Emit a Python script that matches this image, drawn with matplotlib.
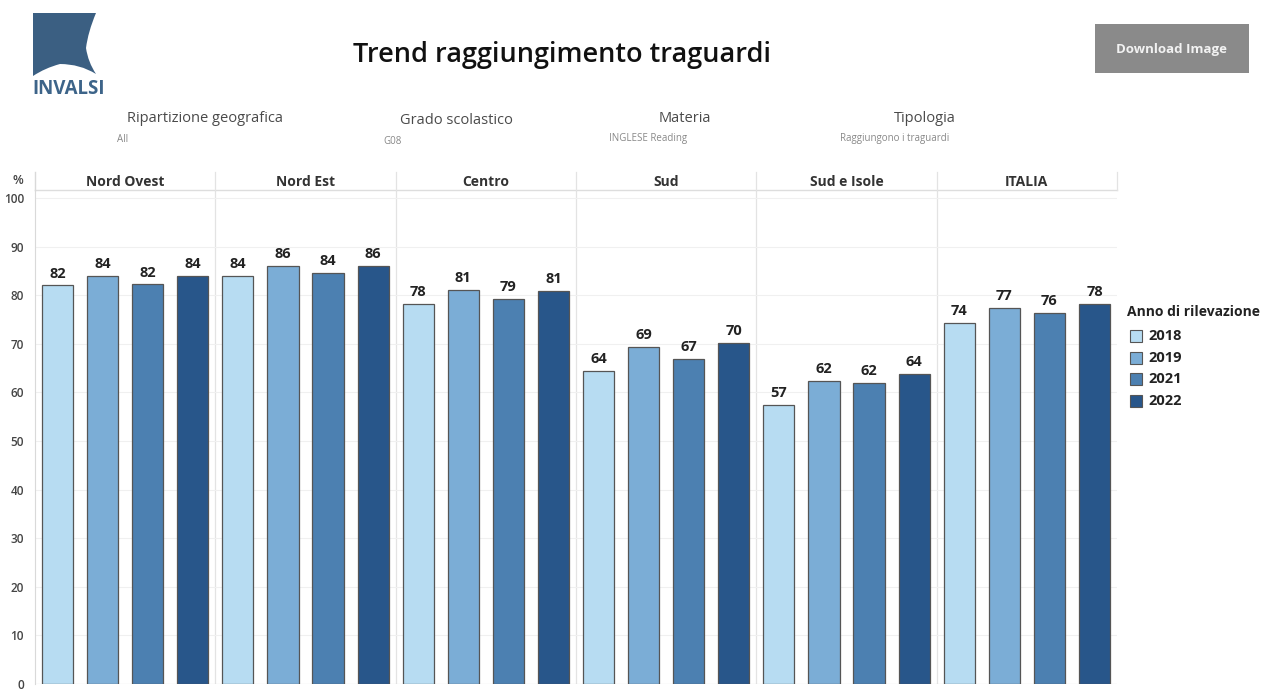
import matplotlib.pyplot as plt
from matplotlib.patches import Rectangle, PathPatch
from matplotlib.path import Path
from matplotlib.lines import Line2D
import numpy as np

W, H = 1262, 691

regions = ['Nord Ovest', 'Nord Est', 'Centro', 'Sud', 'Sud e Isole', 'ITALIA']
years = ['2018', '2019', '2021', '2022']
val_2018 = [82.0, 84.0, 78.2, 64.4, 57.4, 74.3]
val_2019 = [84.0, 86.0, 81.0, 69.3, 62.4, 77.4]
val_2021 = [82.2, 84.6, 79.2, 66.8, 62.0, 76.4]
val_2022 = [84.0, 86.0, 80.8, 70.2, 63.8, 78.2]
labels_2018 = ['82', '84', '78', '64', '57', '74']
labels_2019 = ['84', '86', '81', '69', '62', '77']
labels_2021 = ['82', '84', '79', '67', '62', '76']
labels_2022 = ['84', '86', '81', '70', '64', '78']
colors = ['#b7dcf2', '#7badd6', '#4c80b1', '#28568a']

filters = ['Ripartizione geografica', 'Grado scolastico', 'Materia', 'Tipologia']
filter_vals = ['All', 'G08', 'INGLESE Reading', 'Raggiungono i traguardi']

plt.rcParams['font.family'] = ['Open Sans', 'DejaVu Sans']


def fx(px):
    return px / W


def fy(py):
    return 1 - py / H


fig = plt.figure(figsize=(W / 100, H / 100), dpi=100)

# main plot
ax = fig.add_axes([fx(35), fy(684), fx(1117) - fx(35), fy(190) - fy(684)])
series = [val_2018, val_2019, val_2021, val_2022]
lbls = [labels_2018, labels_2019, labels_2021, labels_2022]
for j, (vals, lab) in enumerate(zip(series, lbls)):
    x = np.arange(len(regions)) * 4 + j + 0.5
    ax.bar(x, vals, width=0.69, color=colors[j], edgecolor='#555555',
           linewidth=0.9, zorder=3)
    for xi, v, t in zip(x, vals, lab):
        ax.text(xi, v + 1.0, t, ha='center', va='bottom', fontsize=10.5,
                fontweight='bold', color='#222222', zorder=4)

ax.set_xlim(0, 24)
ax.set_ylim(0, 101.64)
ax.set_yticks(range(0, 101, 10))
ax.set_xticks([])
ax.tick_params(axis='y', length=0, pad=8, labelsize=8.5, labelcolor='#444444')
for t in ax.get_yticklabels():
    t.set_fontweight('semibold')
for s in ['top', 'right', 'bottom']:
    ax.spines[s].set_visible(False)
ax.spines['left'].set_color('#d9d9d9')
ax.grid(axis='y', color='#f0f0f0', linewidth=0.8, zorder=0)
for k in range(1, 6):
    ax.axvline(k * 4, color='#e3e3e3', linewidth=0.9, zorder=1)
ax.axhline(0, color='#cccccc', linewidth=0.8, zorder=2)

# header row
panel_w = (1117 - 35) / 6
fig.add_artist(Line2D([fx(35), fx(1117)], [fy(190), fy(190)], color='#dddddd', lw=1.0))
fig.add_artist(Line2D([fx(35), fx(35)], [fy(172), fy(190)], color='#d9d9d9', lw=1.0))
for k in range(1, 7):
    xp = 35 + k * panel_w
    fig.add_artist(Line2D([fx(xp), fx(xp)], [fy(172), fy(190)], color='#e3e3e3', lw=0.9))
for i, r in enumerate(regions):
    fig.text(fx(35 + (i + 0.5) * panel_w), fy(182), r, ha='center', va='center',
             fontsize=10, fontweight='bold', color='#333333')
fig.text(fx(18), fy(180), '%', ha='center', va='center', fontsize=9,
         fontweight='semibold', color='#444444')

# title
fig.text(fx(562), fy(55), 'Trend raggiungimento traguardi', ha='center', va='center',
         fontsize=19.5, fontweight='semibold', color='#111111')

# filters
filter_cx = [205, 456, 685, 925]
filter_vx = [117, 383, 609, 840]
filter_ty = [119, 121, 119, 119]
for name, val, cx, vx, ty in zip(filters, filter_vals, filter_cx, filter_vx, filter_ty):
    fig.text(fx(cx), fy(ty), name, ha='center', va='center', fontsize=10.5, color='#4a4a4a')
    fig.text(fx(vx), fy(ty + 20), val, ha='left', va='center', fontsize=7, color='#888888')

# legend
fig.text(fx(1127), fy(312), 'Anno di rilevazione', ha='left', va='center', fontsize=10,
         fontweight='bold', color='#222222')
for j, yr in enumerate(years):
    yc = 336 + j * 21.7
    fig.add_artist(Rectangle((fx(1130), fy(yc + 6)), fx(12), 12 / H, facecolor=colors[j],
                             edgecolor='#555555', lw=0.8, transform=fig.transFigure))
    fig.text(fx(1148), fy(yc), yr, ha='left', va='center', fontsize=10.5,
             fontweight='bold', color='#222222')

# download button
fig.add_artist(Rectangle((fx(1095), fy(73)), fx(154), 49 / H, facecolor='#8a8a8a',
                         edgecolor='none', transform=fig.transFigure))
fig.text(fx(1172), fy(49), 'Download Image', ha='center', va='center', fontsize=9.5,
         fontweight='bold', color='#f2f2f2')

# logo
logo_pts = [(33, 13), (96, 13), (88, 32), (86, 48), (88, 62), (96, 74),
            (80, 64), (60, 64), (45, 68), (33, 76), (33, 13)]
codes = [Path.MOVETO, Path.LINETO, Path.CURVE3, Path.CURVE3, Path.CURVE3, Path.CURVE3,
         Path.CURVE3, Path.CURVE3, Path.CURVE3, Path.CURVE3, Path.CLOSEPOLY]
logo = Path([(fx(a), fy(b)) for a, b in logo_pts], codes)
fig.add_artist(PathPatch(logo, facecolor='#3b5f82', edgecolor='none', transform=fig.transFigure))
fig.text(fx(32), fy(89), 'INVALSI', ha='left', va='center', fontsize=13.5,
         fontweight='bold', color='#3d6489')

fig.savefig('out.png', dpi=100)
